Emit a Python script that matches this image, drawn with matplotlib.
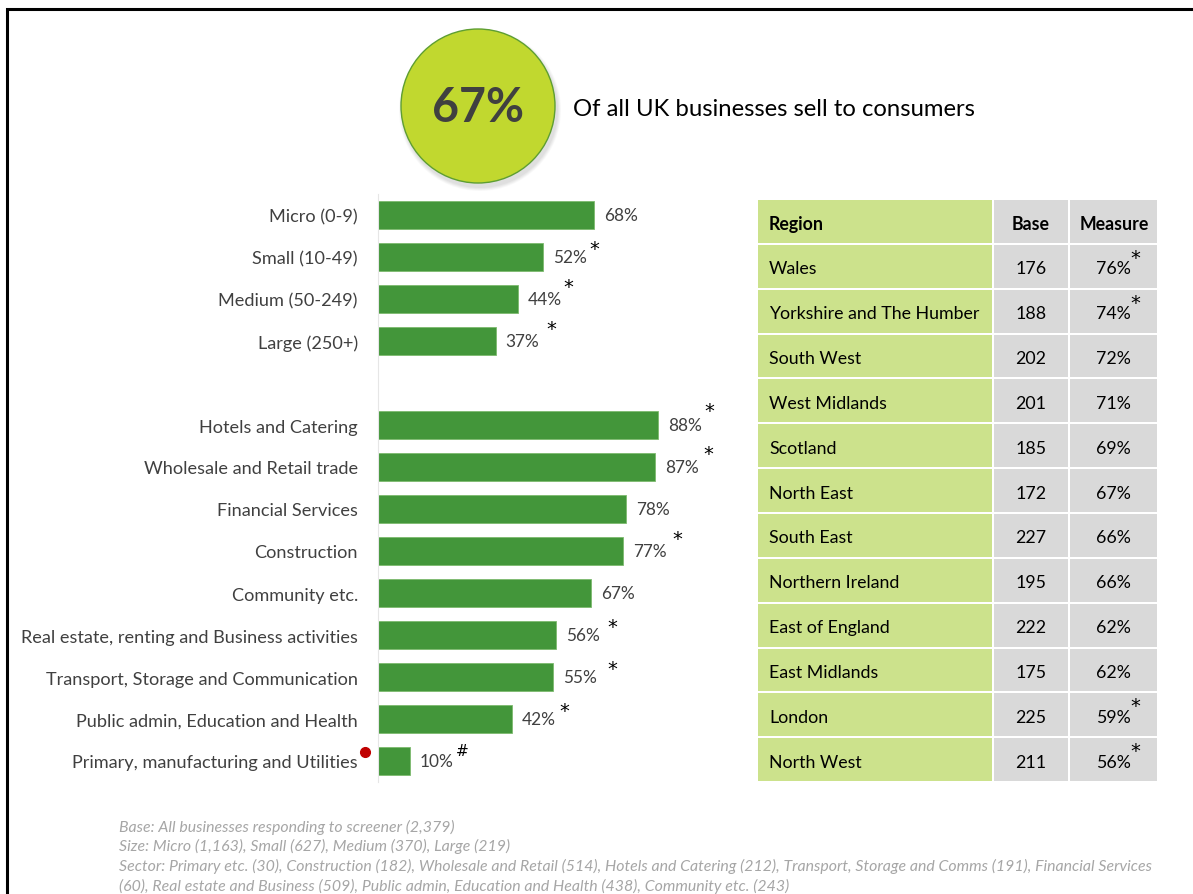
import matplotlib
matplotlib.use("Agg")
import matplotlib.pyplot as plt
from matplotlib.patches import Rectangle, Ellipse

# ---- data -------------------------------------------------------------
headline_value = 67
headline_text = "Of all UK businesses sell to consumers"

size_labels = ["Micro (0-9)", "Small (10-49)", "Medium (50-249)", "Large (250+)"]
size_values = [68, 52, 44, 37]
size_marks = ["", "*", "*", "*"]

sector_labels = ["Hotels and Catering", "Wholesale and Retail trade", "Financial Services",
                 "Construction", "Community etc.", "Real estate, renting and Business activities",
                 "Transport, Storage and Communication", "Public admin, Education and Health",
                 "Primary, manufacturing and Utilities"]
sector_values = [88, 87, 78, 77, 67, 56, 55, 42, 10]
sector_marks = ["*", "*", "", "*", "", "*", "*", "*", "#"]

region_names = ["Wales", "Yorkshire and The Humber", "South West", "West Midlands", "Scotland",
                "North East", "South East", "Northern Ireland", "East of England",
                "East Midlands", "London", "North West"]
region_base = [176, 188, 202, 201, 185, 172, 227, 195, 222, 175, 225, 211]
region_measure = [76, 74, 72, 71, 69, 67, 66, 66, 62, 62, 59, 56]
region_marks = ["*", "*", "", "", "", "", "", "", "", "", "*", "*"]
table_header = ["Region", "Base", "Measure"]

notes = [
    "Base: All businesses responding to screener (2,379)",
    "Size: Micro (1,163), Small (627), Medium (370), Large (219)",
    "Sector: Primary etc. (30), Construction (182), Wholesale and Retail (514), Hotels and Catering (212), Transport, Storage and Comms (191), Financial Services",
    "(60), Real estate and Business (509), Public admin, Education and Health (438), Community etc. (243)",
]

# ---- styling ----------------------------------------------------------
W, H = 1193, 895
FONT = "Lato"
TXT = "#404040"
BAR = "#43963A"
GREEN_CELL = "#CCE28C"
GREY_CELL = "#D9D9D9"
PX = 0.72  # points per pixel at dpi 100
MARK_FONT = ["DejaVu Sans"]

plt.rcParams["font.family"] = [FONT, "DejaVu Sans"]

fig = plt.figure(figsize=(W / 100, H / 100), dpi=100)
fig.patch.set_facecolor("white")

# full-figure canvas in pixel units (top-left origin)
bg = fig.add_axes([0, 0, 1, 1])
bg.set_xlim(0, W)
bg.set_ylim(H, 0)
bg.axis("off")

# frame lines along left and top
bg.plot([7, 7, W + 5], [H + 5, 10, 10], color="black", lw=2.2, solid_joinstyle="miter",
        clip_on=False)

# headline bubble with soft shadow
cx, cy, r = 478, 107, 77
for k, a in enumerate([0.05, 0.06, 0.07, 0.08]):
    d = 4 - k
    bg.add_patch(Ellipse((cx + 2, cy + 4), 2 * r + 2 * d, 2 * r + 2 * d,
                         facecolor="#808080", edgecolor="none", alpha=a, zorder=1))
bg.add_patch(Ellipse((cx, cy), 2 * r, 2 * r, facecolor="#C1D82F", edgecolor="#5E9E32",
                     lw=1.0, zorder=2))
bg.text(cx, cy + 1, f"{headline_value}%", ha="center", va="center", fontsize=33.5,
        fontweight="bold", color=TXT, zorder=3)
bg.text(573, 109, headline_text, ha="left", va="center", fontsize=17.2, color="black")

# ---- bar chart --------------------------------------------------------
ax = fig.add_axes([378 / W, (H - 783) / H, 318 / W, 588 / H])
ax.set_facecolor("none")
labels = size_labels + sector_labels
values = size_values + sector_values
marks = size_marks + sector_marks
positions = list(range(len(size_labels))) + [len(size_labels) + 1 + i for i in range(len(sector_labels))]

ax.barh(positions, values, height=0.667, color=BAR, edgecolor="#7DBA6E", linewidth=0.6)
ax.set_xlim(0, 100)
ax.set_ylim(13.5, -0.5)
ax.set_xticks([])
ax.set_yticks(positions, labels, fontsize=13.1, color=TXT)
ax.tick_params(axis="y", length=0, pad=20 * PX)
for s in ["top", "right", "bottom"]:
    ax.spines[s].set_visible(False)
ax.spines["left"].set_color("#E6E6E6")
ax.spines["left"].set_linewidth(0.8)

# per-bar placement of significance marks (pixel offsets from bar end)
mark_dx = [0, 51, 50, 56, 51, 54, 0, 54, 0, 56, 59, 53, 52]
mark_dy = [0, 9, 12, 13, 14, 13, 0, 12, 0, 8, 8, 8, 10]
for i, (p, v, m) in enumerate(zip(positions, values, marks)):
    ax.annotate(f"{v}%", xy=(v, p), xytext=(10 * PX, 0), textcoords="offset points",
                ha="left", va="center", fontsize=12.4, color=TXT, annotation_clip=False)
    if m:
        ax.annotate(m, xy=(v, p), xytext=(mark_dx[i] * PX, mark_dy[i] * PX),
                    textcoords="offset points", ha="center", va="center",
                    fontsize=14 if m == "*" else 11, family=MARK_FONT, color="black",
                    annotation_clip=False)

# red marker beside the low-base sector label
bg.plot([365], [753], marker="o", markersize=7, color="#C00000", zorder=5)

# ---- region table -----------------------------------------------------
col_x = [758, 994, 1070]
col_w = [234, 74, 87]
row_top = 201
row_h = 44.85
gap = 2
n_rows = len(region_names) + 1
for rI in range(n_rows):
    y0 = row_top + rI * row_h
    for cI in range(3):
        fc = GREEN_CELL if cI == 0 else GREY_CELL
        bg.add_patch(Rectangle((col_x[cI], y0), col_w[cI], row_h - gap, facecolor=fc,
                               edgecolor="none"))
    yc = y0 + (row_h - gap) / 2 + 2
    if rI == 0:
        bg.text(769, yc, table_header[0], ha="left", va="center", fontsize=12.8,
                fontweight="bold", color="black")
        bg.text(1031, yc, table_header[1], ha="center", va="center", fontsize=12.8,
                fontweight="bold", color="black")
        bg.text(1114, yc, table_header[2], ha="center", va="center", fontsize=12.8,
                fontweight="bold", color="black")
    else:
        k = rI - 1
        bg.text(769, yc, region_names[k], ha="left", va="center", fontsize=12.8, color="black")
        bg.text(1031, yc, str(region_base[k]), ha="center", va="center", fontsize=12.8,
                color="black")
        bg.text(1113, yc, f"{region_measure[k]}%", ha="center", va="center", fontsize=12.8,
                color="black")
        if region_marks[k]:
            bg.text(1135, yc - 11, region_marks[k], ha="center", va="center", fontsize=14,
                    family=MARK_FONT, color="black")

# ---- notes ------------------------------------------------------------
for line, y in zip(notes, [827, 846, 866, 886]):
    bg.text(119, y, line, ha="left", va="center", fontsize=11.4, style="italic",
            color="#A6A6A6")

fig.savefig("out.png", dpi=100, facecolor="white")
